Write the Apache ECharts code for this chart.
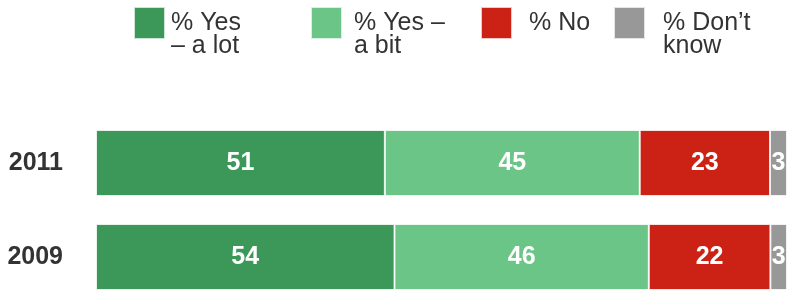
<!DOCTYPE html>
<html>
<head>
<meta charset="utf-8">
<script src="https://cdn.jsdelivr.net/npm/echarts@6/dist/echarts.min.js"></script>
<style>
html, body { margin: 0; padding: 0; background: #fff; }
#main { width: 787px; height: 291px; }
</style>
</head>
<body>
<div id="main"></div>
<script>
// data
var years = ['2011', '2009'];
var seriesNames = ['% Yes – a lot', '% Yes – a bit', '% No', '% Don’t know'];
var legendText = ['% Yes\n– a lot', '% Yes –\na bit', '% No', '% Don’t\nknow'];
var yesALot = [51, 54];
var yesABit = [45, 46];
var no = [23, 22];
var dontKnow = [3, 3];

var colors = ['#3b9858', '#6bc586', '#cb2215', '#989898'];
var raw = [yesALot, yesABit, no, dontKnow];

// each bar fills the full width: share of row total
var totals = years.map(function (y, i) {
    return raw.reduce(function (s, arr) { return s + arr[i]; }, 0);
});

var legendLeft = [133, 310, 480, 613];
var legendPadLeft = [1, 7, 12, 13];

var legends = seriesNames.map(function (name, i) {
    var twoLine = legendText[i].indexOf('\n') >= 0;
    return {
        data: [name],
        left: legendLeft[i],
        top: twoLine ? -12.5 : 6,
        padding: 0,
        itemWidth: 31,
        itemHeight: 32,
        icon: 'rect',
        selectedMode: false,
        // blank first line keeps the first text line level with the icon
        formatter: function () { return twoLine ? '\n' + legendText[i] : legendText[i]; },
        textStyle: {
            fontFamily: 'Liberation Sans',
            fontSize: 25,
            lineHeight: 23,
            color: '#333',
            padding: [0, 0, 0, legendPadLeft[i]]
        }
    };
});

var series = seriesNames.map(function (name, k) {
    return {
        name: name,
        type: 'bar',
        stack: 'total',
        barWidth: 66,
        itemStyle: {
            color: colors[k],
            borderColor: 'rgba(255,255,255,0.75)',
            borderWidth: 1
        },
        label: {
            show: true,
            position: 'inside',
            color: '#fff',
            fontFamily: 'Liberation Sans',
            fontWeight: 'bold',
            fontSize: 25,
            formatter: function (p) { return raw[k][p.dataIndex]; }
        },
        data: raw[k].map(function (v, i) { return v / totals[i] * 100; })
    };
});

var myChart = echarts.init(document.getElementById('main'), null, {renderer: 'canvas'});
var option = {
    animation: false,
    legend: legends,
    grid: {
        left: 96,
        right: 0,
        top: 116,
        bottom: -13,
        outerBoundsMode: 'none'
    },
    xAxis: {
        type: 'value',
        min: 0,
        max: 100,
        show: false
    },
    yAxis: {
        type: 'category',
        inverse: true,
        data: years,
        axisLine: {show: false},
        axisTick: {show: false},
        axisLabel: {
            margin: 33,
            color: '#333',
            fontFamily: 'Liberation Sans',
            fontWeight: 'bold',
            fontSize: 25
        }
    },
    series: series
};
myChart.setOption(option);
</script>
</body>
</html>
